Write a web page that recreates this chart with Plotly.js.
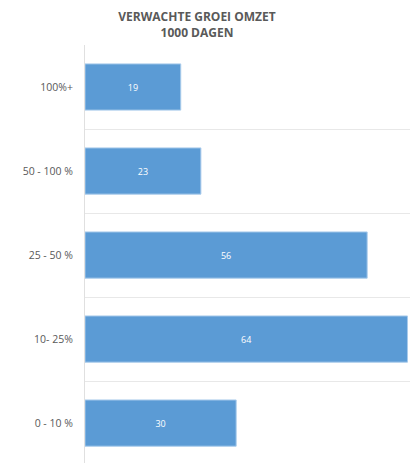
<!DOCTYPE html>
<html>
<head>
<meta charset="utf-8">
<script src="https://cdn.plot.ly/plotly-3.0.1.min.js"></script>
<style>
  html, body { margin: 0; padding: 0; background: #ffffff; }
  #chart { width: 410px; height: 463px; }
</style>
</head>
<body>
<div id="chart"></div>
<script>
// Expected turnover growth over 1000 days, by growth bracket (bottom to top)
const categories = ["0 - 10 %", "10- 25%", "25 - 50 %", "50 - 100 %", "100%+"];
const counts = [30, 64, 56, 23, 19];

const trace = {
  type: "bar",
  orientation: "h",
  y: categories,
  x: counts,
  text: counts.map(String),
  textposition: "inside",
  insidetextanchor: "middle",
  textfont: { family: "Open Sans, sans-serif", size: 9, color: "#ffffff" },
  marker: { color: "#5b9bd5", line: { color: "#a9cbeb", width: 1 } },
  width: 0.55,
  hoverinfo: "none"
};

const layout = {
  width: 410,
  height: 463,
  margin: { l: 85, r: 0, t: 45, b: 0, pad: 0 },
  paper_bgcolor: "#ffffff",
  plot_bgcolor: "#ffffff",
  showlegend: false,
  title: {
    text: "<b>VERWACHTE GROEI OMZET<br>1000 DAGEN</b>",
    xref: "container",
    x: 197 / 410,
    xanchor: "center",
    yref: "container",
    y: 1 - 21 / 463,
    yanchor: "middle",
    font: { family: "Open Sans, sans-serif", size: 12, color: "#595959" }
  },
  xaxis: {
    range: [0, 64.5],
    showgrid: false,
    zeroline: false,
    showline: false,
    showticklabels: false,
    ticks: ""
  },
  yaxis: {
    type: "category",
    categoryorder: "array",
    categoryarray: categories,
    range: [-0.475, 4.5],
    tickson: "boundaries",
    showgrid: true,
    gridcolor: "#e8e8e8",
    gridwidth: 1,
    showline: true,
    linecolor: "#e0e0e0",
    linewidth: 1,
    zeroline: false,
    ticks: "",
    ticklabelstandoff: 9,
    tickfont: { family: "Open Sans, sans-serif", size: 10.5, color: "#595959" }
  }
};

Plotly.newPlot("chart", [trace], layout, { displayModeBar: false, staticPlot: true });
</script>
</body>
</html>
